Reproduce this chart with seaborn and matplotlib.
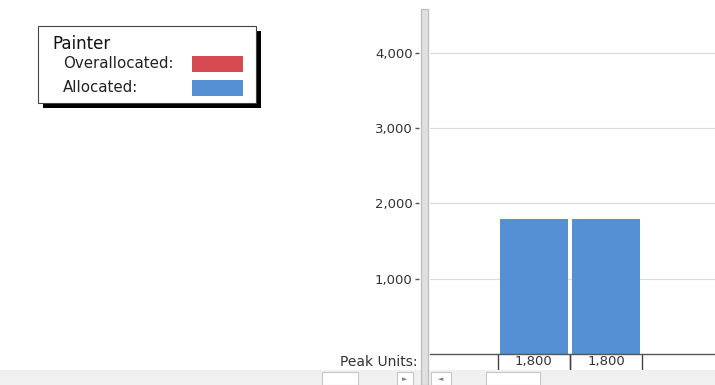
import matplotlib
matplotlib.use("Agg")
import matplotlib.pyplot as plt
import matplotlib.transforms as mtransforms
from matplotlib.patches import Rectangle
from matplotlib.ticker import FuncFormatter
import seaborn as sns
import pandas as pd

# ---------------- data ----------------
periods = ["P1", "P2", "P3", "P4"]
allocated = [0, 1800, 1800, 0]
overallocated = [0, 0, 0, 0]
peak_units = [0, 1800, 1800, 0]
y_ticks = [1000, 2000, 3000, 4000]
resource = "Painter"
legend_labels = ["Overallocated:", "Allocated:"]
row_label = "Peak Units:"

RED = "#d64a52"
BLUE = "#5590d4"
legend_colors = [RED, BLUE]

W, H, DPI = 715, 385, 100
sns.set_theme(style="white")
plt.rcParams['font.family'] = ['DejaVu Sans']

fig = plt.figure(figsize=(W / DPI, H / DPI), dpi=DPI)
fig.patch.set_facecolor("white")


def fx(px):
    return px / W


def fy(py):
    return 1 - py / H


ax = fig.add_axes([fx(430), fy(354), fx(715) - fx(430), fy(10) - fy(354)])
df = pd.DataFrame({"period": periods, "allocated": allocated, "over": overallocated})
sns.barplot(data=df, x="period", y="allocated", color=BLUE, saturation=1,
            width=0.94, edgecolor="none", linewidth=0, ax=ax)
ax.set_xlim(-0.44, 3.51)
ax.set_ylim(0, 4570)
ax.set_xlabel("")
ax.set_ylabel("")
ax.set_xticks([])
ax.set_yticks(y_ticks)
ax.yaxis.set_major_formatter(FuncFormatter(lambda v, p: f"{v:,.0f}"))
ax.yaxis.grid(True, color="#dadada", lw=0.8)
ax.set_axisbelow(True)
for s in ["top", "right", "left"]:
    ax.spines[s].set_visible(False)
ax.spines["bottom"].set_color("#555555")
ax.spines["bottom"].set_linewidth(1.0)
ax.spines["left"].set_position(("outward", 8.0))
ax.tick_params(axis="y", direction="out", length=3.0, width=1.0, color="#555555",
               pad=1.5, labelsize=9.5, labelcolor="#333333", left=True)

# Peak units row
blend = mtransforms.blended_transform_factory(ax.transData, fig.transFigure)
for i, v in enumerate(peak_units):
    if v:
        ax.text(i, fy(362), f"{v:,.0f}", transform=blend, ha="center", va="center",
                fontsize=9.5, color="#333333", clip_on=False)
        for xb in (i - 0.5, i + 0.5):
            ax.plot([xb, xb], [fy(354), fy(370)], transform=blend, color="#444444",
                    lw=1.0, clip_on=False)
fig.text(fx(418), fy(362), row_label, ha="right", va="center", fontsize=10, color="#333333")

# bottom scroll strip
fig.patches.append(Rectangle((0, 0), 1, fy(370), transform=fig.transFigure,
                             facecolor="#f0f0f0", edgecolor="none", zorder=2))
for x0, x1 in [(322, 358), (397, 413), (431, 451), (486, 540)]:
    fig.patches.append(Rectangle((fx(x0), 0), fx(x1) - fx(x0), fy(372),
                                 transform=fig.transFigure, facecolor="white",
                                 edgecolor="#c6c6c6", lw=0.8, zorder=3))
fig.text(fx(405), fy(379), "\u25ba", ha="center", va="center", fontsize=5, color="#808080", zorder=4)
fig.text(fx(441), fy(379), "\u25c4", ha="center", va="center", fontsize=5, color="#808080", zorder=4)

# splitter
fig.patches.append(Rectangle((fx(421), 0), fx(428) - fx(421), fy(9),
                             transform=fig.transFigure, facecolor="#e0e0e0",
                             edgecolor="#bdbdbd", lw=0.9, zorder=5))

# legend box (drawn as figure artists)
bx0, by0, bx1, by1 = 38, 26, 256, 103
fig.patches.append(Rectangle((fx(bx0 + 5), fy(by1 + 5)), fx(bx1) - fx(bx0), fy(by0) - fy(by1),
                             transform=fig.transFigure, facecolor="black",
                             edgecolor="none", zorder=6))
fig.patches.append(Rectangle((fx(bx0), fy(by1)), fx(bx1) - fx(bx0), fy(by0) - fy(by1),
                             transform=fig.transFigure, facecolor="white",
                             edgecolor="#444444", lw=0.8, zorder=7))
fig.text(fx(52), fy(44), resource, ha="left", va="center", fontsize=12,
         color="#111111", zorder=8)
row_y = [64, 88]
for lab, col, yy in zip(legend_labels, legend_colors, row_y):
    fig.text(fx(63), fy(yy), lab, ha="left", va="center", fontsize=10.8,
             color="#222222", zorder=8)
    fig.patches.append(Rectangle((fx(192), fy(yy + 8)), fx(243) - fx(192), fy(yy - 8) - fy(yy + 8),
                                 transform=fig.transFigure, facecolor=col,
                                 edgecolor="none", zorder=8))

fig.savefig("out.png", dpi=DPI, facecolor="white")
